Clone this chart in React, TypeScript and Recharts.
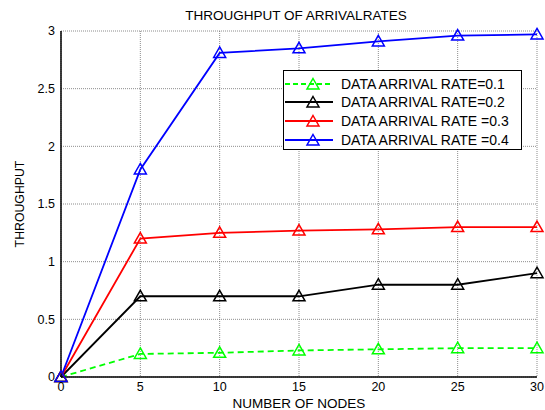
import React from "react";
import { LineChart, Line, XAxis, YAxis, CartesianGrid } from "recharts";

const nodes = [0, 5, 10, 15, 20, 25, 30];
const rate01 = [0, 0.2, 0.21, 0.23, 0.24, 0.25, 0.25];
const rate02 = [0, 0.7, 0.7, 0.7, 0.8, 0.8, 0.9];
const rate03 = [0, 1.2, 1.25, 1.27, 1.28, 1.3, 1.3];
const rate04 = [0, 1.8, 2.81, 2.85, 2.91, 2.96, 2.97];
const xTicks = [0, 5, 10, 15, 20, 25, 30];
const yTicks = [0, 0.5, 1, 1.5, 2, 2.5, 3];

const SERIES = [
  { key: "r1", label: "DATA ARRIVAL RATE=0.1", color: "#00ff00", dash: "6 4" },
  { key: "r2", label: "DATA ARRIVAL RATE=0.2", color: "#000000", dash: undefined },
  { key: "r3", label: "DATA ARRIVAL RATE =0.3", color: "#ff0000", dash: undefined },
  { key: "r4", label: "DATA ARRIVAL RATE =0.4", color: "#0000ff", dash: undefined },
];

const data = nodes.map((n, i) => ({
  n,
  r1: rate01[i],
  r2: rate02[i],
  r3: rate03[i],
  r4: rate04[i],
}));

const FONT = "'Liberation Sans', Arial, sans-serif";

function triangle(cx: number, cy: number, color: string, key?: React.Key) {
  const w = 6;
  const h = 6;
  return (
    <path
      key={key}
      d={`M${cx},${cy - h} L${cx + w},${cy + h * 0.75} L${cx - w},${cy + h * 0.75} Z`}
      fill="none"
      stroke={color}
      strokeWidth={1.5}
    />
  );
}

// legend drawn as an overlay so it doesn't eat plot space
function LegendBox() {
  return (
    <div
      style={{
        position: "absolute",
        left: 283,
        top: 70,
        width: 239,
        height: 80,
        border: "1px solid #000",
        background: "#fff",
        fontFamily: FONT,
        fontSize: 14,
        paddingTop: 3.5,
        boxSizing: "border-box",
      }}
    >
      {SERIES.map((s) => (
        <div key={s.key} style={{ display: "flex", alignItems: "center", height: 18.6 }}>
          <svg width={57} height={16} style={{ flex: "none" }}>
            <line
              x1={1}
              x2={49}
              y1={8}
              y2={8}
              stroke={s.color}
              strokeWidth={2}
              strokeDasharray={s.dash ? "5 3" : undefined}
            />
            {triangle(29, 8.5, s.color)}
          </svg>
          <span style={{ color: "#000", whiteSpace: "nowrap", lineHeight: "16px" }}>{s.label}</span>
        </div>
      ))}
    </div>
  );
}

export default function App() {
  return (
    <div style={{ position: "fixed", left: 0, top: 0, width: 545, height: 410, background: "#fff", overflow: "hidden" }}>
      <div
        style={{
          position: "absolute",
          top: 8,
          left: 0,
          width: 592,
          textAlign: "center",
          fontFamily: FONT,
          fontSize: 13.5,
          lineHeight: "16px",
          color: "#000",
        }}
      >
        THROUGHPUT OF ARRIVALRATES
      </div>
      <LineChart
        width={545}
        height={410}
        data={data}
        margin={{ top: 31, right: 8, bottom: 0, left: 0 }}
        style={{ fontFamily: FONT }}
      >
        <CartesianGrid stroke="#707070" strokeDasharray="1 1" strokeWidth={0.8} />
        <XAxis
          dataKey="n"
          type="number"
          domain={[0, 30]}
          ticks={xTicks}
          tick={{ fontSize: 12.5, fill: "#000" }}
          tickLine={false}
          tickSize={4}
          tickMargin={1}
          axisLine={{ stroke: "#000", strokeWidth: 1.5 }}
          height={33}
          label={{
            value: "NUMBER OF NODES",
            position: "insideBottom",
            offset: 2,
            fontSize: 13.5,
            fill: "#000",
          }}
        />
        <YAxis
          type="number"
          domain={[0, 3]}
          ticks={yTicks}
          tick={{ fontSize: 12.5, fill: "#000" }}
          tickLine={false}
          tickSize={4}
          tickMargin={2}
          axisLine={{ stroke: "#000", strokeWidth: 1.5 }}
          width={61}
          label={{
            value: "THROUGHPUT",
            angle: -90,
            position: "insideLeft",
            offset: 20,
            fontSize: 12.3,
            fill: "#000",
            style: { textAnchor: "middle" },
          }}
        />
        <XAxis
          xAxisId="top"
          orientation="top"
          dataKey="n"
          type="number"
          domain={[0, 30]}
          ticks={xTicks}
          tick={false}
          tickLine={false}
          axisLine={{ stroke: "#000", strokeWidth: 1.5 }}
          height={0}
        />
        <YAxis
          yAxisId="right"
          orientation="right"
          type="number"
          domain={[0, 3]}
          ticks={yTicks}
          tick={false}
          tickLine={false}
          axisLine={{ stroke: "#000", strokeWidth: 1.5 }}
          width={0}
        />
        {SERIES.map((s) => (
          <Line
            key={s.key}
            dataKey={s.key}
            stroke={s.color}
            strokeWidth={1.8}
            strokeDasharray={s.dash}
            type="linear"
            isAnimationActive={false}
            dot={(p: any) => triangle(p.cx, p.cy, s.color, p.index)}
            activeDot={false}
          />
        ))}
      </LineChart>
      <LegendBox />
    </div>
  );
}
